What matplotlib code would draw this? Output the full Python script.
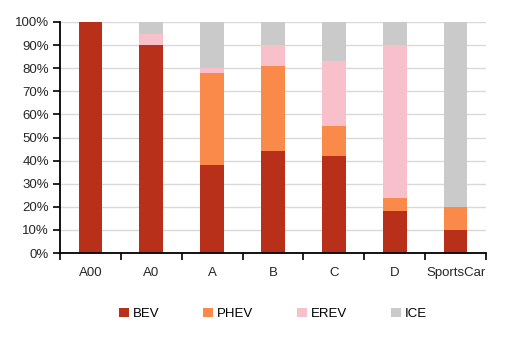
import numpy as np
import matplotlib.pyplot as plt
from matplotlib.ticker import PercentFormatter, FixedLocator

plt.rcParams['font.family'] = ['Liberation Sans', 'DejaVu Sans']

segments = ['A00', 'A0', 'A', 'B', 'C', 'D', 'SportsCar']
bev = [100, 90, 38, 44, 42, 18, 10]
phev = [0, 0, 40, 37, 13, 6, 10]
erev = [0, 5, 2, 9, 28, 66, 0]
ice = [0, 5, 20, 10, 17, 10, 80]

series = [('BEV', bev, '#B83019'),
          ('PHEV', phev, '#F98A4A'),
          ('EREV', erev, '#F7C0CA'),
          ('ICE', ice, '#CACACA')]

fig = plt.figure(figsize=(5.09, 3.37), dpi=100)
ax = fig.add_axes([60 / 509, 1 - 253 / 337, 426 / 509, 231 / 337])

x = np.arange(len(segments))
bottom = np.zeros(len(segments))
for name, vals, color in series:
    ax.bar(x, vals, 0.39, bottom=bottom, color=color, label=name, zorder=2)
    bottom += np.array(vals)

ax.set_xlim(-0.5, len(segments) - 0.5)
ax.set_ylim(0, 100)
ax.set_yticks(np.arange(0, 101, 10))
ax.yaxis.set_major_formatter(PercentFormatter(decimals=0))
ax.grid(axis='y', color='#D9D9D9', linewidth=1, zorder=0)

# category labels centered, tick marks between categories
ax.set_xticks(x)
ax.set_xticklabels(segments)
ax.tick_params(axis='x', which='major', length=0, pad=10)
ax.xaxis.set_minor_locator(FixedLocator(np.arange(-0.5, len(segments), 1)))
ax.tick_params(axis='x', which='minor', length=5, width=1.2, color='black')
ax.tick_params(axis='y', length=5, width=1.2, pad=3)
ax.tick_params(labelsize=9.5, labelcolor='#262626')

for side in ['top', 'right']:
    ax.spines[side].set_visible(False)
for side in ['left', 'bottom']:
    ax.spines[side].set_linewidth(1.3)

# legend centred under the plot area
fig.legend(loc='center', bbox_to_anchor=(273 / 509, 1 - 314 / 337), ncol=4,
           frameon=False, fontsize=9.5, handlelength=0.75, handleheight=0.75,
           handletextpad=0.3, columnspacing=3.3)

plt.savefig('out.png', dpi=100)
